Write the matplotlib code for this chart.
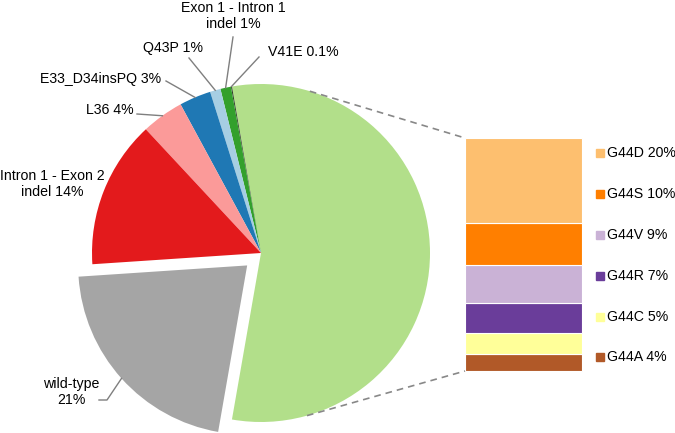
import numpy as np
import matplotlib.pyplot as plt

plt.rcParams['font.family'] = ['Liberation Sans', 'DejaVu Sans']

# pie slices, counter-clockwise starting with the G44 group on the right
pie_labels = ['G44 mutations', 'V41E 0.1%', 'Exon 1 - Intron 1\nindel 1%', 'Q43P 1%',
              'E33_D34insPQ 3%', 'L36 4%', 'Intron 1 - Exon 2\nindel 14%', 'wild-type\n21%']
pie_values = [55, 0.1, 1, 1, 3, 4, 14, 21]
pie_colors = ['#b2df8a', '#2e3a26', '#33a02c', '#a6cee3', '#1f78b4', '#fb9a99', '#e31a1c', '#a5a5a5']
pie_explode = [0, 0, 0, 0, 0, 0, 0, 0.11]  # fraction of the radius

# breakdown of the G44 group (top to bottom in the bar)
bar_labels = ['G44D 20%', 'G44S 10%', 'G44V 9%', 'G44R 7%', 'G44C 5%', 'G44A 4%']
bar_values = [20, 10, 9, 7, 5, 4]
bar_colors = ['#fdbf6f', '#ff7f00', '#cab2d6', '#6a3d9a', '#ffff99', '#b15928']

W, H = 675, 433
fig = plt.figure(figsize=(W / 100, H / 100), dpi=100)
ax = fig.add_axes([0, 0, 1, 1])

cx, cy, R = 261, 180, 169
frac0 = pie_values[0] / sum(pie_values) * 360
# matplotlib's explode is in data units, so scale by the radius
wedges, _ = ax.pie(pie_values, colors=pie_colors, explode=[e * R for e in pie_explode],
                   startangle=-frac0 / 2, counterclock=True,
                   center=(cx, cy), radius=R, wedgeprops=dict(linewidth=0))

ax.set_xlim(0, W)
ax.set_ylim(0, H)
ax.set_aspect('equal')
ax.axis('off')

# --- stacked bar for the G44 breakdown ---
bar_left, bar_right = 465, 582
bar_bottom, bar_top = 62, 295
scale = (bar_top - bar_bottom) / sum(bar_values)
bottom = bar_bottom
for val, col in zip(bar_values[::-1], bar_colors[::-1]):
    ax.bar((bar_left + bar_right) / 2, val * scale, bottom=bottom,
           width=bar_right - bar_left, color=col, edgecolor='white', linewidth=0.8)
    bottom += val * scale

# dashed connectors, tangent from bar corners to the pie
for corner_y, sign in [(bar_top, 1), (bar_bottom, -1)]:
    px, py = bar_left - cx, corner_y - cy
    d = np.hypot(px, py)
    phi = np.arctan2(py, px)
    t = phi + sign * np.arccos(R / d)
    ax.plot([cx + R * np.cos(t), bar_left], [cy + R * np.sin(t), corner_y],
            ls=(0, (4, 3)), color='#888888', lw=1.2)

# legend for the bar
leg_y = [153, 194, 235, 276, 317, 357]
for lab, col, yy in zip(bar_labels, bar_colors, leg_y):
    ax.add_patch(plt.Rectangle((596, H - yy - 4), 8, 8, color=col))
    ax.text(607, H - yy, lab, fontsize=10.2, va='center', ha='left')


def edge_point(i, rr=R):
    w = wedges[i]
    mid = np.radians((w.theta1 + w.theta2) / 2)
    c = w.center
    return c[0] + rr * np.cos(mid), c[1] + rr * np.sin(mid)


# pie labels with leader lines
lab_pos = {
    1: dict(xy=(268, 52), ha='left', lead=(259, 57)),
    2: dict(xy=(233, 16), ha='center', lead=(233, 37)),
    3: dict(xy=(173, 48), ha='center', lead=(189, 58)),
    4: dict(xy=(101, 79), ha='center', lead=(166, 81)),
    5: dict(xy=(110, 110), ha='center', lead=(137, 114)),
    6: dict(xy=(52, 184), ha='center', lead=None),
    7: dict(xy=(71, 392), ha='center', lead=(99, 400)),
}
for i, p in lab_pos.items():
    ax.text(p['xy'][0], H - p['xy'][1], pie_labels[i], fontsize=10.2,
            ha=p['ha'], va='center', linespacing=1.15)
    if p['lead'] is not None:
        ex, ey = edge_point(i)
        lx, ly = p['lead'][0], H - p['lead'][1]
        if i == 7:
            ax.plot([lx, lx + 8, ex], [ly, ly, ey], color='#7f7f7f', lw=1)
        else:
            ax.plot([lx, ex], [ly, ey], color='#7f7f7f', lw=1)

fig.savefig('out.png', dpi=100)
